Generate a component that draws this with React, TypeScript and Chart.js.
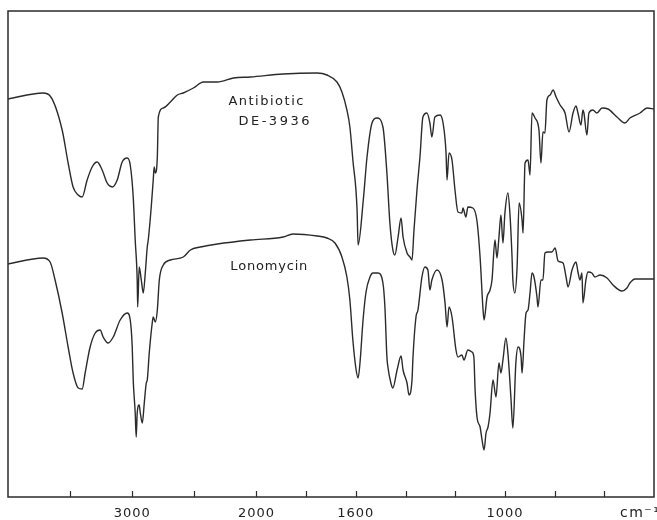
import React, { useEffect, useRef } from 'react';
import { Chart, registerables } from 'chart.js';

Chart.register(...registerables);

// Antibiotic DE-3936 (upper trace): wavenumber (cm-1) and transmittance (arbitrary %)
const upperWn = [4000, 3718, 3661, 3564, 3516, 3476, 3435, 3403, 3363, 3323,
  3282, 3242, 3202, 3161, 3121, 3081, 3040, 3016, 2992, 2976,
  2960, 2956, 2944, 2927, 2911, 2895, 2879, 2871, 2847, 2831,
  2823, 2814, 2798, 2790, 2750, 2693, 2637, 2589, 2508, 2427,
  2314, 2185, 2048, 1893, 1756, 1716, 1676, 1656, 1636, 1624,
  1612, 1595, 1591, 1570, 1555, 1535, 1515, 1491, 1475, 1463,
  1451, 1443, 1430, 1418, 1410, 1394, 1382, 1374, 1366, 1354,
  1342, 1330, 1314, 1302, 1294, 1282, 1261, 1249, 1237, 1233,
  1225, 1213, 1201, 1189, 1173, 1169, 1157, 1149, 1129, 1113,
  1100, 1088, 1084, 1072, 1060, 1052, 1040, 1032, 1024, 1016,
  1008, 1000, 988, 980, 972, 968, 960, 951, 943, 931,
  927, 919, 907, 899, 891, 879, 863, 855, 847, 839,
  831, 818, 806, 794, 778, 758, 742, 726, 714, 706,
  694, 686, 682, 670, 662, 646, 630, 609, 585, 549,
  517, 497, 456, 428, 400];
const upperT = [79.6, 80.8, 80.2, 73.4, 66.8, 62.0, 60.4, 60.0, 63.4, 66.0,
  67.0, 65.4, 62.8, 62.0, 63.4, 67.0, 67.8, 66.4, 60.0, 51.4,
  43.4, 38.0, 46.0, 43.4, 40.8, 44.8, 50.0, 51.4, 58.0, 63.4,
  66.0, 64.8, 68.0, 76.0, 77.8, 79.0, 80.4, 80.8, 81.8, 83.0,
  83.0, 83.8, 84.0, 84.6, 84.8, 84.4, 83.0, 81.0, 77.4, 74.0,
  67.4, 57.4, 50.4, 59.4, 68.0, 74.8, 75.8, 74.0, 64.8, 54.8,
  49.4, 48.4, 52.0, 55.8, 52.0, 48.8, 48.0, 47.4, 53.4, 61.4,
  68.0, 76.0, 76.8, 74.8, 72.0, 76.0, 76.4, 74.8, 68.8, 63.4,
  68.8, 67.4, 61.4, 57.0, 56.8, 57.8, 56.0, 58.0, 57.8, 55.4,
  48.0, 37.4, 35.4, 40.0, 41.4, 43.4, 51.4, 47.8, 52.0, 56.4,
  50.8, 56.8, 60.8, 56.8, 48.8, 43.4, 40.8, 46.0, 58.8, 55.4,
  52.8, 66.8, 67.4, 64.4, 76.8, 75.8, 73.4, 66.8, 73.0, 72.8,
  79.4, 80.4, 81.4, 80.0, 78.4, 76.8, 73.0, 76.8, 78.2, 76.8,
  74.4, 77.4, 76.8, 72.4, 76.8, 77.4, 76.8, 77.8, 77.6, 76.0,
  74.8, 75.8, 76.8, 77.8, 77.6];

// Lonomycin (lower trace)
const lowerWn = [4000, 3718, 3661, 3621, 3564, 3516, 3476, 3435, 3403, 3379,
  3339, 3298, 3258, 3234, 3194, 3153, 3097, 3040, 3016, 3000,
  2992, 2976, 2968, 2960, 2944, 2935, 2919, 2903, 2887, 2879,
  2863, 2839, 2831, 2814, 2798, 2782, 2750, 2693, 2589, 2532,
  2452, 2314, 2048, 1893, 1853, 1756, 1716, 1684, 1656, 1636,
  1624, 1612, 1600, 1591, 1583, 1571, 1559, 1543, 1531, 1511,
  1491, 1483, 1475, 1471, 1459, 1451, 1434, 1418, 1410, 1394,
  1386, 1374, 1370, 1358, 1350, 1334, 1322, 1310, 1302, 1294,
  1273, 1253, 1241, 1233, 1225, 1213, 1197, 1189, 1173, 1165,
  1149, 1133, 1125, 1120, 1112, 1100, 1092, 1084, 1076, 1068,
  1060, 1048, 1036, 1024, 1016, 1008, 996, 988, 976, 968,
  956, 947, 935, 931, 923, 915, 907, 899, 891, 883,
  871, 867, 855, 847, 839, 827, 811, 798, 786, 766,
  754, 746, 730, 714, 706, 698, 690, 686, 674, 666,
  650, 638, 617, 589, 565, 529, 509, 497, 476, 456, 400];
const lowerT = [46.6, 47.8, 47.0, 43.4, 36.8, 30.0, 24.8, 21.8, 21.6, 24.8,
  30.0, 32.8, 33.4, 32.0, 30.8, 32.0, 35.4, 36.8, 35.4, 30.0,
  23.4, 16.8, 12.0, 16.8, 18.4, 16.8, 14.8, 18.8, 22.8, 23.4,
  28.8, 34.8, 36.0, 35.0, 37.4, 43.4, 46.4, 47.4, 48.0, 49.4,
  50.0, 50.6, 51.4, 52.0, 52.6, 52.2, 51.8, 50.8, 48.0, 44.0,
  39.4, 31.4, 25.8, 23.8, 27.0, 35.4, 41.0, 44.0, 44.8, 44.8,
  42.8, 38.0, 28.0, 26.0, 22.8, 21.8, 25.4, 28.2, 25.4, 22.8,
  20.4, 23.4, 28.0, 36.0, 37.4, 44.0, 46.0, 45.4, 41.4, 43.4,
  45.4, 43.4, 38.8, 34.0, 38.0, 36.0, 29.4, 28.0, 28.4, 27.4,
  29.4, 29.0, 28.0, 21.4, 15.8, 14.0, 11.4, 9.4, 12.8, 14.0,
  16.8, 23.4, 20.0, 26.8, 24.8, 27.4, 31.8, 28.8, 20.0, 13.8,
  26.8, 30.0, 28.0, 24.8, 31.4, 36.8, 37.4, 40.8, 44.8, 44.0,
  40.0, 38.0, 43.4, 43.4, 48.8, 49.0, 49.0, 49.8, 47.2, 46.8,
  44.0, 42.0, 45.4, 47.0, 45.0, 43.4, 44.8, 38.8, 43.4, 45.0,
  44.8, 44.0, 44.4, 43.8, 42.4, 41.2, 41.8, 42.8, 43.6, 43.6, 43.6];

// x-axis ticks (cm-1) and their labels
const tickWn = [3500, 3000, 2500, 2000, 1800, 1600, 1400, 1200, 1000, 800, 600];
const tickLabels = ['', '3000', '', '2000', '', '1600', '', '', '1000', '', ''];
const unitLabel = 'cm\u207B\u00B9';

// Trace labels: text, wavenumber of left edge, vertical level, letter spacing
const traceLabels = ['Antibiotic', 'DE-3936', 'Lonomycin'];
const traceLabelWn = [2226, 2145, 2210];
const traceLabelT = [79.0, 75.0, 46.0];
const traceLabelSpacing = ['1.5px', '2.5px', '0.8px'];

const WN_MAX = 4000;
const WN_SPLIT = 2000;
const WN_MIN = 400;
// IR chart paper: scale doubles below 2000 cm-1
const toPos = (wn: number) =>
  wn >= WN_SPLIT ? WN_MAX - wn : (WN_MAX - WN_SPLIT) + 2 * (WN_SPLIT - wn);

const INK = '#2b2b2b';
const FONT = '"DejaVu Sans", sans-serif';

const framePlugin = {
  id: 'irFrame',
  beforeDraw(chart: any) {
    (chart.ctx as any).letterSpacing = '1px';
  },
  afterDraw(chart: any) {
    const { ctx, chartArea, scales } = chart;
    const { left, top, right, bottom } = chartArea;
    const x = scales.x;
    const y = scales.y;
    ctx.save();
    ctx.strokeStyle = INK;
    ctx.lineWidth = 1.5;
    ctx.strokeRect(left, top, right - left, bottom - top);
    ctx.lineWidth = 1.2;
    x.ticks.forEach((t: any) => {
      const px = Math.round(x.getPixelForValue(t.value)) + 0.5;
      ctx.beginPath();
      ctx.moveTo(px, bottom);
      ctx.lineTo(px, bottom - 6);
      ctx.stroke();
    });
    ctx.fillStyle = '#222';
    ctx.font = `14px ${FONT}`;
    ctx.textBaseline = 'middle';
    ctx.textAlign = 'left';
    (ctx as any).letterSpacing = '1.5px';
    ctx.fillText(unitLabel, right - 34, bottom + 16);
    ctx.font = `13px ${FONT}`;
    traceLabels.forEach((txt, i) => {
      (ctx as any).letterSpacing = traceLabelSpacing[i];
      ctx.fillText(txt, x.getPixelForValue(toPos(traceLabelWn[i])), y.getPixelForValue(traceLabelT[i]));
    });
    ctx.restore();
  },
};

export default function App() {
  const ref = useRef<HTMLCanvasElement>(null);
  useEffect(() => {
    if (!ref.current) return;
    const mk = (wn: number[], t: number[]) => wn.map((w, i) => ({ x: toPos(w), y: t[i] }));
    const chart = new Chart(ref.current, {
      type: 'line',
      data: {
        datasets: [
          {
            label: 'Antibiotic DE-3936',
            data: mk(upperWn, upperT),
            borderColor: INK,
            borderWidth: 1.4,
            pointRadius: 0,
            cubicInterpolationMode: 'monotone',
            fill: false,
          },
          {
            label: 'Lonomycin',
            data: mk(lowerWn, lowerT),
            borderColor: INK,
            borderWidth: 1.4,
            pointRadius: 0,
            cubicInterpolationMode: 'monotone',
            fill: false,
          },
        ],
      },
      options: {
        animation: false,
        responsive: true,
        maintainAspectRatio: false,
        layout: { padding: { left: 8, top: 11, right: 3, bottom: 0 } },
        plugins: { legend: { display: false }, tooltip: { enabled: false } },
        scales: {
          x: {
            type: 'linear',
            min: toPos(WN_MAX),
            max: toPos(WN_MIN),
            afterBuildTicks: (scale: any) => {
              scale.ticks = tickWn.map((w) => ({ value: toPos(w) }));
            },
            afterFit: (scale: any) => {
              scale.height = 23;
            },
            grid: { display: false, drawTicks: false },
            border: { display: false },
            ticks: {
              autoSkip: false,
              maxRotation: 0,
              padding: 9,
              color: '#222',
              font: { family: FONT, size: 13 },
              callback: (_v: any, i: number) => tickLabels[i],
            },
          },
          y: {
            display: false,
            min: 0,
            max: 97.2,
          },
        },
      },
      plugins: [framePlugin],
    });
    return () => chart.destroy();
  }, []);
  return (
    <div style={{ position: 'fixed', left: 0, top: 0, width: 657, height: 520, background: '#fff' }}>
      <canvas ref={ref} />
    </div>
  );
}
